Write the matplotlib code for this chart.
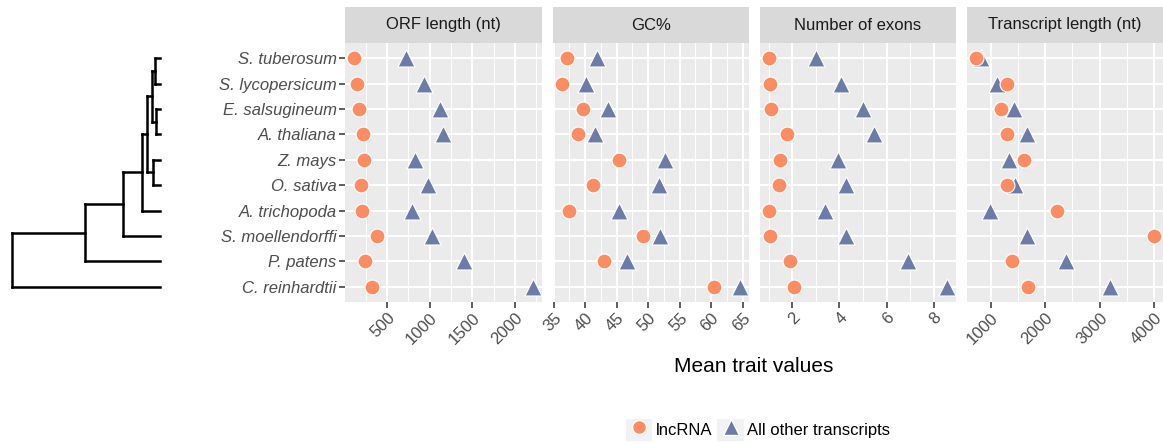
import matplotlib
matplotlib.use('Agg')
import matplotlib.pyplot as plt
from matplotlib.ticker import MultipleLocator
from matplotlib.lines import Line2D
from matplotlib.patches import Rectangle
from matplotlib.legend_handler import HandlerTuple

plt.rcParams['font.family'] = ['Liberation Sans', 'DejaVu Sans']

# ---------------- data ----------------
species = ["S. tuberosum", "S. lycopersicum", "E. salsugineum", "A. thaliana",
           "Z. mays", "O. sativa", "A. trichopoda", "S. moellendorffi",
           "P. patens", "C. reinhardtii"]

traits = ["ORF length (nt)", "GC%", "Number of exons", "Transcript length (nt)"]

orf_lnc = [112, 144, 174, 221, 229, 194, 202, 379, 238, 327]
orf_other = [724, 935, 1124, 1155, 826, 974, 794, 1026, 1398, 2210]
gc_lnc = [37.1, 36.3, 39.6, 38.8, 45.3, 41.3, 37.5, 49.2, 43.0, 60.4]
gc_other = [41.9, 40.2, 43.6, 41.5, 52.7, 51.7, 45.3, 51.9, 46.7, 64.6]
exon_lnc = [1.01, 1.07, 1.11, 1.77, 1.49, 1.43, 1.01, 1.04, 1.92, 2.06]
exon_other = [3.02, 4.05, 5.02, 5.46, 3.93, 4.26, 3.37, 4.29, 6.93, 8.57]
tx_lnc = [724, 1294, 1184, 1294, 1612, 1294, 2213, 4002, 1386, 1691]
tx_other = [816, 1121, 1428, 1662, 1324, 1440, 987, 1673, 2390, 3188]

major_steps = [500, 5, 2, 1000]

series_names = ["lncRNA", "All other transcripts"]

# phylogeny: (node depth, children); ints are leaf indices into species
tree = (0.0, [(0.494, [(0.748, [(0.877, [(0.910, [(0.944, [(0.966, [0, 1]),
                                                        (0.973, [2, 3])]),
                                                (0.955, [4, 5])]),
                                        6]),
                                7]),
                       8]),
              9])
leaf_depth = 1.0

# ---------------- style ----------------
W, H = 1163, 443
ORANGE = '#fc8d62'
BLUE = '#6b7ca8'
PANEL_BG = '#ebebeb'
STRIP_BG = '#d9d9d9'

fig = plt.figure(figsize=(W / 100, H / 100), dpi=100)


def px_axes(x0, y0, x1, y1):
    return fig.add_axes([x0 / W, 1 - y1 / H, (x1 - x0) / W, (y1 - y0) / H])


panel_x = [(345, 542), (553, 749), (760, 956), (967, 1163)]
panel_y = (43, 302)
strip_y = (7, 43)

lnc_data = [orf_lnc, gc_lnc, exon_lnc, tx_lnc]
other_data = [orf_other, gc_other, exon_other, tx_other]
ypos = list(range(len(species)))

for i, (x0, x1) in enumerate(panel_x):
    ax = px_axes(x0, panel_y[0], x1, panel_y[1])
    ax.set_facecolor(PANEL_BG)
    for s in ax.spines.values():
        s.set_visible(False)
    ax.scatter(other_data[i], ypos, marker='^', s=150, c=BLUE,
               edgecolors='white', linewidths=0.8, zorder=3, clip_on=False)
    ax.scatter(lnc_data[i], ypos, marker='o', s=115, c=ORANGE,
               edgecolors='white', linewidths=0.8, zorder=4, clip_on=False)
    ax.margins(x=0.05)
    ax.set_ylim(len(species) - 1 + 0.6, -0.6)
    ax.set_yticks(ypos)
    ax.xaxis.set_major_locator(MultipleLocator(major_steps[i]))
    ax.xaxis.set_minor_locator(MultipleLocator(major_steps[i] / 2))
    ax.set_axisbelow(True)
    ax.grid(which='major', color='white', lw=1.4)
    ax.grid(which='minor', axis='x', color='white', lw=0.7)
    ax.tick_params(axis='both', which='major', length=4, width=1.1,
                   color='#333333', labelcolor='#4d4d4d', labelsize=12, pad=2)
    ax.tick_params(axis='both', which='minor', length=0)
    if i == 0:
        ax.set_yticklabels(species, style='italic')
    else:
        ax.tick_params(axis='y', left=False, labelleft=False)
    fig.canvas.draw_idle()
    for lab in ax.get_xticklabels():
        lab.set_rotation(45)
        lab.set_ha('right')
        lab.set_va('top')
        lab.set_rotation_mode('anchor')

    sax = px_axes(x0, strip_y[0], x1, strip_y[1])
    sax.set_facecolor(STRIP_BG)
    sax.set_xticks([])
    sax.set_yticks([])
    for s in sax.spines.values():
        s.set_visible(False)
    sax.text(0.5, 0.5, traits[i], ha='center', va='center', fontsize=12,
             color='#1a1a1a', transform=sax.transAxes)

# ---------------- tree ----------------
tax = px_axes(11.7, panel_y[0], 160, panel_y[1])
tax.set_xlim(0, 1)
tax.set_ylim(len(species) - 1 + 0.6, -0.6)
tax.axis('off')


def draw(node):
    if isinstance(node, int):
        return float(node), leaf_depth
    depth, children = node
    ys = []
    for ch in children:
        cy, cd = draw(ch)
        tax.plot([depth, cd], [cy, cy], color='black', lw=1.8,
                 solid_capstyle='projecting', clip_on=False)
        ys.append(cy)
    tax.plot([depth, depth], [min(ys), max(ys)], color='black', lw=1.8,
             solid_capstyle='projecting', clip_on=False)
    return sum(ys) / len(ys), depth


draw(tree)

# ---------------- labels & legend ----------------
fig.text(754 / W, 1 - 367 / H, 'Mean trait values', ha='center', va='center',
         fontsize=15, color='black')

h1 = (Rectangle((0, 0), 1, 1, facecolor='#f2f2f2', edgecolor='none'),
      Line2D([], [], marker='o', ls='', markerfacecolor=ORANGE,
             markeredgecolor='white', markersize=10))
h2 = (Rectangle((0, 0), 1, 1, facecolor='#f2f2f2', edgecolor='none'),
      Line2D([], [], marker='^', ls='', markerfacecolor=BLUE,
             markeredgecolor='white', markersize=12))
fig.legend(handles=[h1, h2], labels=series_names,
           handler_map={tuple: HandlerTuple(ndivide=1)}, ncol=2,
           frameon=False, loc='center', bbox_to_anchor=(758 / W, 1 - 430 / H),
           fontsize=12, handlelength=1.6, handleheight=1.6,
           handletextpad=0.2, columnspacing=0.3, borderpad=0)

fig.savefig('out.png', dpi=100)
